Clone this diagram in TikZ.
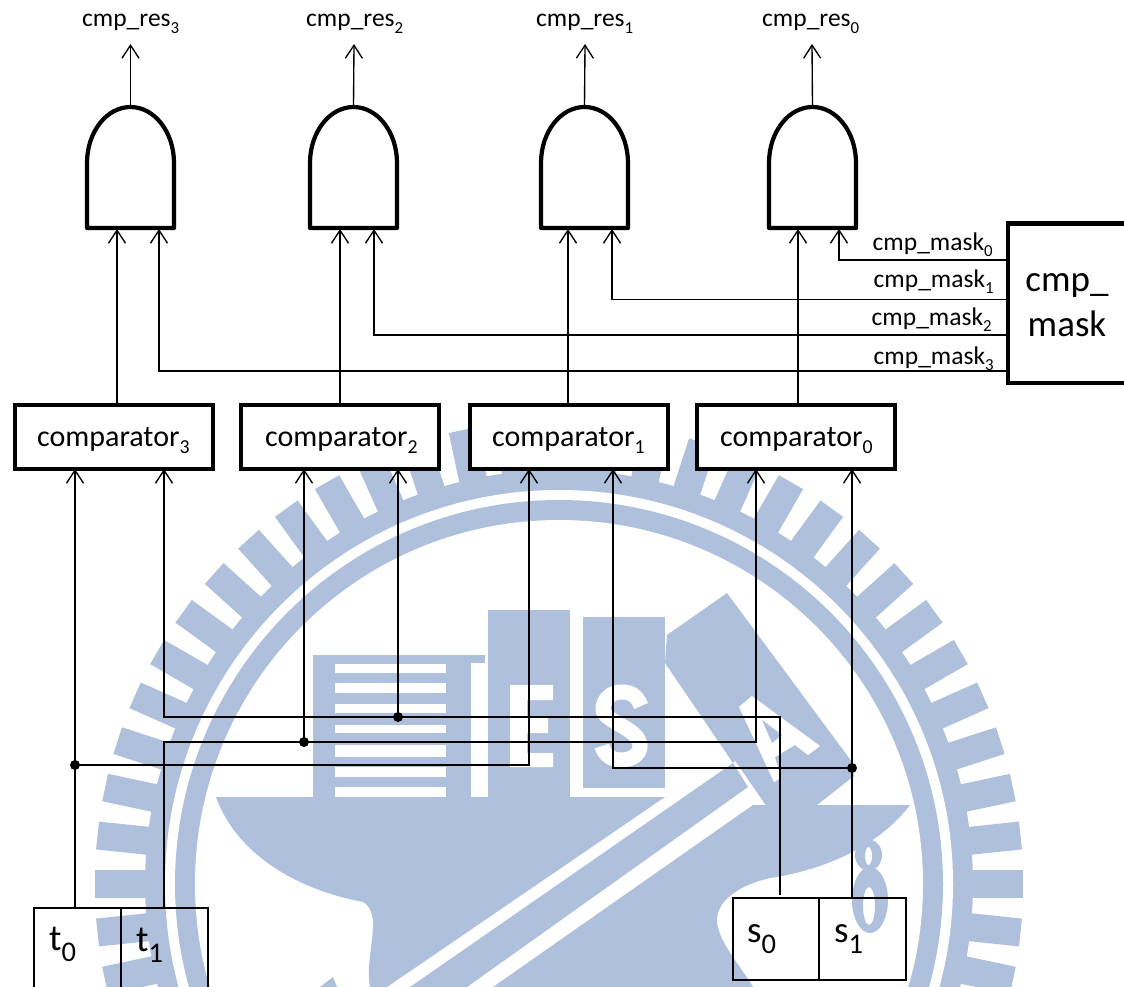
\documentclass[tikz,border=0pt]{standalone}
\usepackage{fontspec}
\setmainfont{Carlito}
\usetikzlibrary{arrows.meta}
\definecolor{wm}{HTML}{AFC0DD}
\newcommand{\lsub}[1]{\raisebox{-0.24em}{\scalebox{0.66}{#1}}}
\newcommand{\bsub}[1]{\raisebox{-0.3em}{\scalebox{0.77}{#1}}}
\tikzset{
  wire/.style={line width=1.35pt,black},
  arrowwire/.style={wire,-{Straight Barb[length=13pt,width=17pt,line width=1.35pt]}},
  heavy/.style={line width=4pt,black,fill=white,draw,inner sep=0pt,outer sep=0pt},
  thinbox/.style={line width=2.4pt,black,draw,inner sep=0pt,outer sep=0pt},
  gatebody/.style={line width=4.2pt,black,fill=white,line join=round},
  junction/.style={circle,fill=black,inner sep=0pt,minimum width=10pt},
  clabel/.style={font=\fontsize{30}{32}\selectfont,inner sep=0pt},
  slabel/.style={font=\fontsize{25.5}{27}\selectfont,inner sep=0pt},
  blabel/.style={font=\fontsize{37}{45}\selectfont,inner sep=0pt,align=center},
  wmblue/.style={fill=wm}
}
\newcommand{\gate}[2]{% name, left x
  \draw[gatebody] (#2,228) -- (#2,163) arc[x radius=43.5,y radius=56,start angle=180,end angle=360] -- (#2+87,228) -- cycle;
  \coordinate (#1out) at (#2+43.5,107);
}
\begin{document}
\begin{tikzpicture}[x=1pt,y=-1pt]
\clip (0,0) rectangle (1124,987);
\fill[white] (0,0) rectangle (1124,987);
% ---- watermark
\foreach \a in {0,6,...,354}{
  \fill[wm,rotate around={\a:(559,884)}] (1023,870) rectangle (960,898);
}
\fill[wm] (559,884) circle[radius=414];
\fill[white] (559,884) circle[radius=394];
\fill[wm] (559,884) circle[radius=384];
\fill[white] (559,884) circle[radius=364];
% T + striped block
\fill[wmblue] (313,655) rectangle (485,663);
\fill[wmblue] (313,655) rectangle (334,797);
\fill[wmblue] (334,655) rectangle (446,797);
\foreach \ya/\yb in {664/673,683/693,704/713,725/733,745/757,767/777,787/797}{
  \fill[white] (334.5,\ya) rectangle (446,\yb);
}
\fill[wmblue] (446,655) rectangle (471,802);
% E block
\fill[wmblue] (488,610) rectangle (570,797);
\fill[white] (510,685) -- (553,685) -- (553,700) -- (527,700) -- (527,718) -- (548,718) -- (548,733) -- (527,733) -- (527,753) -- (553,753) -- (553,767) -- (510,767) -- cycle;
% S block
\fill[wmblue] (583,617) rectangle (665,788);
\draw[white,line width=15pt] (641,706) .. controls (637,695) and (630,692) .. (622,692)
  .. controls (610,692) and (603,700) .. (603,709)
  .. controls (603,722) and (640,728) .. (640,746)
  .. controls (640,755) and (631,760) .. (621,760)
  .. controls (612,760) and (604,755) .. (602,746);
% hammer
\fill[wmblue] (727,593) -- (667,635) -- (665,663) -- (733,763) -- (765,808) -- (817,805) -- (854,776) -- (852,762) -- cycle;
\fill[white] (739,707) -- (752,696) -- (820,746) -- (808,755) -- (795,745) -- (775,757) -- (781,778) -- (774,782) -- cycle;
\fill[wmblue] (762,720) -- (782,735) -- (772,743) -- cycle;
\draw[white,line width=3pt] (734,762) -- (765,807);
% anvil, upper part
\fill[wmblue] (216,797) -- (665,797) -- (387,987) -- (370,987)
  .. controls (366,965) and (374,940) .. (373,920) .. controls (371,908) and (367,904) .. (363,902)
  .. controls (290,888) and (235,850) .. (216,797) -- cycle;
\fill[wmblue] (320,987) -- (333,977) -- (337,987) -- cycle;
% handle band
\fill[wmblue] (733,763) -- (748,787) -- (467,987) -- (410,987) -- cycle;
% anvil, lower part
\fill[wmblue] (753,805) -- (910,805) .. controls (880,845) and (825,870) .. (770,878)
  .. controls (740,885) and (717,900) .. (717,920) .. controls (717,940) and (740,965) .. (753,987)
  -- (493,987) -- cycle;
% 8
\fill[wm,even odd rule] (868.5,855) ellipse[x radius=13.5,y radius=15.5] (868.5,856) ellipse[x radius=3.5,y radius=9];
\fill[wm,even odd rule] (870,900) ellipse[x radius=18,y radius=33] (869,906) ellipse[x radius=6,y radius=19];
% ---- nodes
\node[thinbox,minimum width=87pt,minimum height=100pt,anchor=north west] (t0) at (34,908) {};
\node[thinbox,minimum width=87pt,minimum height=100pt,anchor=north west] (t1) at (121,908) {};
\node[thinbox,minimum width=86pt,minimum height=82pt,anchor=north west] (s0) at (733,898) {};
\node[thinbox,minimum width=87pt,minimum height=82pt,anchor=north west] (s1) at (819,898) {};
\node[blabel,anchor=base west] (t0t) at (49,950) {t\bsub{0}};
\node[blabel,anchor=base west] (t1t) at (136,951) {t\bsub{1}};
\node[blabel,anchor=base west] (s0t) at (747,942) {s\bsub{0}};
\node[blabel,anchor=base west] (s1t) at (834,942) {s\bsub{1}};
\node[heavy,minimum width=198pt,minimum height=64pt,anchor=north west] (c3) at (14.5,404.5) {};
\node[heavy,minimum width=198pt,minimum height=64pt,anchor=north west] (c2) at (241,404.5) {};
\node[heavy,minimum width=198pt,minimum height=64pt,anchor=north west] (c1) at (469.5,404.5) {};
\node[heavy,minimum width=198pt,minimum height=64pt,anchor=north west] (c0) at (697,404.5) {};
\node[clabel,anchor=base west] (c3t) at (37,446) {comparator\lsub{3}};
\node[clabel,anchor=base west] (c2t) at (265,446) {comparator\lsub{2}};
\node[clabel,anchor=base west] (c1t) at (492,446) {comparator\lsub{1}};
\node[clabel,anchor=base west] (c0t) at (720,446) {comparator\lsub{0}};
\node[heavy,minimum width=140pt,minimum height=159pt,anchor=north west] (mask) at (1008,223.5) {};
\node[blabel] (maskt) at (1067,305) {cmp\_\\mask};
\gate{g3}{87}
\gate{g2}{310}
\gate{g1}{541}
\gate{g0}{769}
% ---- ports
\coordinate (r3) at (130.5,44); \coordinate (r2) at (354,44); \coordinate (r1) at (585,44); \coordinate (r0) at (812,44);
\coordinate (g3a) at (117,229); \coordinate (g3b) at (159,229);
\coordinate (g2a) at (340,229); \coordinate (g2b) at (374,229);
\coordinate (g1a) at (568,229); \coordinate (g1b) at (612,229);
\coordinate (g0a) at (798,229); \coordinate (g0b) at (839,229);
\coordinate (c3o) at (117,404); \coordinate (c2o) at (340,404); \coordinate (c1o) at (568,404); \coordinate (c0o) at (798,404);
\coordinate (m0) at (1007,260); \coordinate (m1) at (1007,299.5); \coordinate (m2) at (1007,335); \coordinate (m3) at (1007,371);
\coordinate (c3a) at (75,469); \coordinate (c3b) at (164,469);
\coordinate (c2a) at (304,469); \coordinate (c2b) at (398,469);
\coordinate (c1a) at (529,469); \coordinate (c1b) at (613,469);
\coordinate (c0a) at (756,469); \coordinate (c0b) at (852,469);
\coordinate (t0o) at (75,908); \coordinate (t1o) at (164,908);
\coordinate (s0o) at (780,895); \coordinate (s1o) at (852,898);
\node[junction] (j1) at (75,765) {};
\node[junction] (j2) at (304,742) {};
\node[junction] (j3) at (398,717) {};
\node[junction] (j4) at (852,768) {};
% ---- outputs and mask wires
\foreach \n in {3,2,1,0}{
  \draw[arrowwire] (g\n out) -- (r\n);
  \draw[arrowwire] (c\n o) -- (g\n a);
  \draw[arrowwire] (m\n) -| (g\n b);
}
% ---- comparator input wires
\draw[arrowwire] (t0o) -- (c3a);
\draw[arrowwire] (j1.center) -| (c1a);
\draw[wire] (t1o) |- (j2.center);
\draw[arrowwire] (j2.center) -| (c0a);
\draw[arrowwire] (j2.center) -- (c2a);
\draw[wire] (s0o) |- (j3.center);
\draw[arrowwire] (j3.center) -| (c3b);
\draw[arrowwire] (j3.center) -- (c2b);
\draw[arrowwire] (s1o) -- (c0b);
\draw[arrowwire] (j4.center) -| (c1b);
% ---- texts
\node[slabel,anchor=base west] (lr3) at (82,27) {cmp\_res\lsub{3}};
\node[slabel,anchor=base west] (lr2) at (306,27) {cmp\_res\lsub{2}};
\node[slabel,anchor=base west] (lr1) at (536,27) {cmp\_res\lsub{1}};
\node[slabel,anchor=base west] (lr0) at (762,27) {cmp\_res\lsub{0}};
\node[slabel,anchor=base west] (lm0) at (872.5,250) {cmp\_mask\lsub{0}};
\node[slabel,anchor=base west] (lm1) at (873.5,287.5) {cmp\_mask\lsub{1}};
\node[slabel,anchor=base west] (lm2) at (871.5,325) {cmp\_mask\lsub{2}};
\node[slabel,anchor=base west] (lm3) at (873.5,364) {cmp\_mask\lsub{3}};
\end{tikzpicture}
\end{document}
